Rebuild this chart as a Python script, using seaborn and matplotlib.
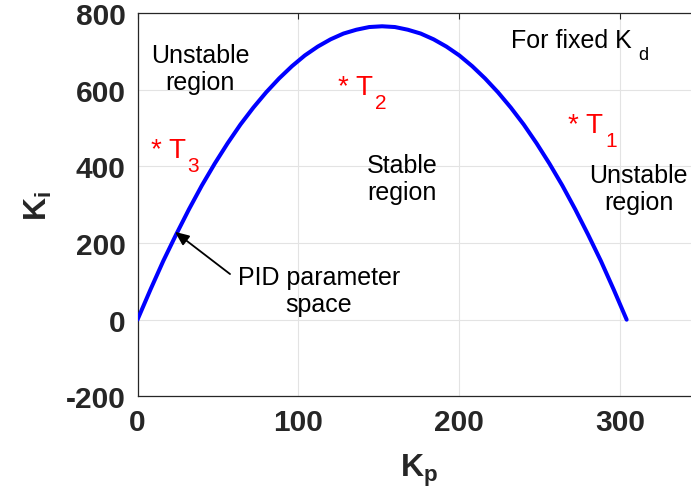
import matplotlib
matplotlib.use("Agg")
import matplotlib.pyplot as plt
import matplotlib.transforms as mtransforms
import seaborn as sns
import pandas as pd

# ---- data ----
kp = [0, 8, 16, 24, 32, 40, 48, 56, 64, 72, 80, 88, 96, 104, 112, 120, 128, 136,
      144, 152, 160, 168, 176, 184, 192, 200, 208, 216, 224, 232, 240, 248, 256,
      264, 272, 280, 288, 296, 304]
ki = [0, 78, 153, 222, 288, 350, 407, 460, 509, 553, 593, 629, 661, 689, 712, 731,
      746, 756, 763, 765, 763, 756, 746, 731, 712, 689, 661, 629, 593, 553, 509,
      460, 407, 350, 288, 222, 153, 78, 0]

region_labels = ["Unstable\nregion", "Stable\nregion", "Unstable\nregion"]
region_x = [38.8, 164.4, 311.4]
region_y = [654, 367, 342]

point_main = ["* T", "* T", "* T"]
point_sub = ["1", "2", "3"]
point_x = [267.5, 124.6, 8.2]
point_y = [489.7, 588.8, 424.6]

x_ticks = [0, 100, 200, 300]
y_ticks = [-200, 0, 200, 400, 600, 800]

sns.set_theme(style="white")
plt.rcParams["font.family"] = ["Liberation Sans", "DejaVu Sans"]
plt.rcParams["mathtext.fontset"] = "custom"
plt.rcParams["mathtext.rm"] = "Liberation Sans"
plt.rcParams["mathtext.it"] = "Liberation Sans"
plt.rcParams["mathtext.bf"] = "Liberation Sans:bold"
plt.rcParams["axes.unicode_minus"] = False

fig = plt.figure(figsize=(6.91, 5.02), dpi=100)
ax = fig.add_axes([0.199, 0.2084, 0.815, 0.764])

df = pd.DataFrame({"Kp": kp, "Ki": ki})
sns.lineplot(data=df, x="Kp", y="Ki", sort=False, estimator=None,
             color="#0000ff", linewidth=2.9, ax=ax, zorder=3)

ax.set_xlim(0, 350)
ax.set_ylim(-200, 800)
ax.set_xticks(x_ticks)
ax.set_yticks(y_ticks)
ax.grid(True, color="#e3e3e3", linewidth=0.8)
ax.set_axisbelow(True)
for s in ax.spines.values():
    s.set_color("#262626")
    s.set_linewidth(0.9)
    s.set_visible(True)

ax.tick_params(axis="both", direction="in", length=4, width=0.8,
               colors="#262626", labelsize=21.5, top=True, right=True, pad=8.5)
for lab in ax.get_xticklabels() + ax.get_yticklabels():
    lab.set_fontweight("bold")

ax.set_xlabel(r"$\mathbf{K_p}$", fontsize=23, color="#262626")
ax.set_ylabel(r"$\mathbf{K_i}$", fontsize=23, color="#262626")
ax.xaxis.set_label_coords(0.5, -0.145)
ax.yaxis.set_label_coords(-0.148, 0.5)

for lbl, x, y in zip(region_labels, region_x, region_y):
    ax.text(x, y, lbl, ha="center", va="center", fontsize=18,
            color="black", linespacing=1.15)

fig.canvas.draw()
renderer = fig.canvas.get_renderer()


def text_with_sub(x, y, main, sub, size, sub_size, color, gap_px, drop_px):
    t = ax.text(x, y, main, ha="left", va="baseline", fontsize=size, color=color)
    w = t.get_window_extent(renderer).width
    tr = mtransforms.offset_copy(ax.transData, fig=fig,
                                 x=(w + gap_px) * 0.72, y=-drop_px * 0.72,
                                 units="points")
    ax.text(x, y, sub, ha="left", va="baseline", fontsize=sub_size,
            color=color, transform=tr)


for m, s, x, y in zip(point_main, point_sub, point_x, point_y):
    text_with_sub(x, y, m, s, 20, 15, "red", 2, 14)

text_with_sub(232.1, 711.5, "For fixed K", "d", 18, 13, "black", 7, 12)

ax.annotate("", xy=(23.3, 229), xytext=(57.5, 119),
            arrowprops=dict(arrowstyle="-|>,head_length=0.7,head_width=0.3",
                            color="black", lw=1.3, shrinkA=0, shrinkB=0))
ax.text(112.8, 75, "PID parameter\nspace", ha="center", va="center",
        fontsize=18, color="black", linespacing=1.15)

fig.savefig("out.png", dpi=100)
